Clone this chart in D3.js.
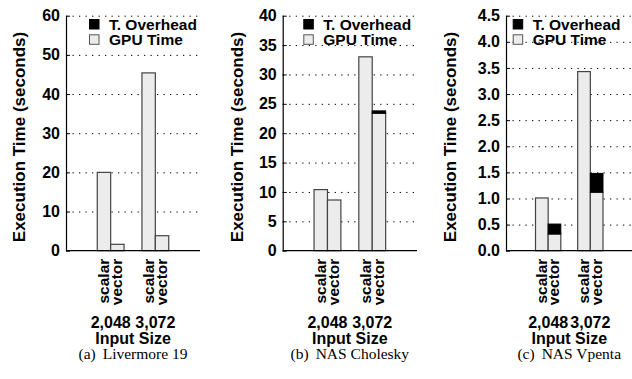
<!DOCTYPE html>
<html>
<head>
<meta charset="utf-8">
<script src="https://cdn.jsdelivr.net/npm/d3@7"></script>
<style>
  body { margin: 0; background: #fff; }
  svg { display: block; }
  text { font-family: "Liberation Sans", Arial, sans-serif; font-weight: bold; fill: #000; }
  .caption { font-family: "Liberation Serif", "Times New Roman", serif; font-weight: normal; font-size: 15.5px; }
</style>
</head>
<body>
<svg width="632" height="379"></svg>
<script>
// data
var sizes = ["2,048", "3,072"];
var modes = ["scalar", "vector"];
var seriesNames = ["T. Overhead", "GPU Time"];
var captions = ["(a)|Livermore 19", "(b)|NAS Cholesky", "(c)|NAS Vpenta"];
var yMax = [60, 40, 4.5];
var yStep = [10, 5, 0.5];

// order: 2048 scalar, 2048 vector, 3072 scalar, 3072 vector
var gpuLivermore = [20.0, 1.63, 45.4, 3.83];
var ovhLivermore = [0, 0, 0, 0];
var gpuCholesky = [10.4, 8.63, 33.0, 23.4];
var ovhCholesky = [0, 0, 0, 0.4];
var gpuVpenta = [1.01, 0.32, 3.43, 1.12];
var ovhVpenta = [0, 0.19, 0, 0.36];

var gpuAll = [gpuLivermore, gpuCholesky, gpuVpenta];
var ovhAll = [ovhLivermore, ovhCholesky, ovhVpenta];

// layout per panel
var layout = [
    {left: 66, width: 134, legend: 23, ylab: 47},
    {left: 282.7, width: 134.3, legend: 20.6, ylab: 46},
    {left: 506, width: 126.5, legend: 6.7, ylab: 56}
];
var plotTop = 15.7, plotBottom = 250.7;

var svg = d3.select("svg");

layout.forEach(function (L, p) {
    var g = svg.append("g").attr("transform", "translate(" + L.left + ",0)");

    var x = d3.scaleLinear().domain([-1, 2]).range([0, L.width]);
    var y = d3.scaleLinear().domain([0, yMax[p]]).range([plotBottom, plotTop]);
    var ticks = d3.range(0, yMax[p] + yStep[p] / 2, yStep[p]);
    var fmt = yStep[p] < 1 ? d3.format(".1f") : d3.format("d");

    // dotted grid
    g.append("g")
        .attr("class", "grid")
        .call(d3.axisLeft(y).tickValues(ticks.slice(1)).tickSize(-L.width).tickFormat(""))
        .call(function (s) {
            s.select(".domain").remove();
            s.selectAll("line").attr("stroke", "#000").attr("stroke-width", 1)
                .attr("stroke-dasharray", "1.3,5.2");
        });

    // bars
    var rows = [];
    sizes.forEach(function (sz, i) {
        modes.forEach(function (m, j) {
            var k = i * 2 + j;
            rows.push({g: i, m: j, gpu: gpuAll[p][k], ovh: ovhAll[p][k]});
        });
    });
    var x0 = function (d) { return d.m === 0 ? x(d.g - 0.3) : x(d.g); };
    var bw = x(0.3) - x(0);

    g.selectAll(".gpu")
        .data(rows)
        .enter().append("rect")
        .attr("class", "gpu")
        .attr("x", x0)
        .attr("width", bw)
        .attr("y", function (d) { return y(d.gpu); })
        .attr("height", function (d) { return y(0) - y(d.gpu); })
        .attr("fill", "#ececec")
        .attr("stroke", "#444")
        .attr("stroke-width", 1.2);

    g.selectAll(".ovh")
        .data(rows.filter(function (d) { return d.ovh > 0; }))
        .enter().append("rect")
        .attr("class", "ovh")
        .attr("x", x0)
        .attr("width", bw)
        .attr("y", function (d) { return y(d.gpu + d.ovh); })
        .attr("height", function (d) { return y(d.gpu) - y(d.gpu + d.ovh); })
        .attr("fill", "#000")
        .attr("stroke", "#000")
        .attr("stroke-width", 1);

    // y axis
    g.append("g")
        .call(d3.axisLeft(y).tickValues(ticks).tickSizeInner(-4).tickSizeOuter(0)
            .tickPadding(6).tickFormat(fmt))
        .call(function (s) {
            s.select(".domain").attr("stroke", "#000").attr("stroke-width", 1.2);
            s.selectAll("line").attr("stroke", "#000");
            s.selectAll("text").attr("font-size", "16px")
                .style("font-family", '"Liberation Sans", Arial, sans-serif');
        });

    // baseline
    g.append("line")
        .attr("x1", 0).attr("x2", L.width)
        .attr("y1", y(0)).attr("y2", y(0))
        .attr("stroke", "#000").attr("stroke-width", 1.2);

    // category labels (rotated)
    var centers = [];
    sizes.forEach(function (sz, i) { centers.push(i - 0.15, i + 0.15); });
    g.append("g")
        .attr("transform", "translate(0," + y(0) + ")")
        .call(d3.axisBottom(x).tickValues(centers).tickSize(0)
            .tickFormat(function (d, i) { return modes[i % 2]; }))
        .call(function (s) {
            s.select(".domain").remove();
            s.selectAll("text")
                .attr("transform", "rotate(-90)")
                .attr("text-anchor", "end")
                .attr("x", -8)
                .attr("y", 4.5)
                .attr("dy", 0)
                .attr("font-size", "15.5px")
                .style("font-family", '"Liberation Sans", Arial, sans-serif');
        });

    // group labels
    g.selectAll(".size")
        .data(sizes)
        .enter().append("text")
        .attr("class", "size")
        .attr("x", function (d, i) { return x(i); })
        .attr("y", 328)
        .attr("text-anchor", "middle")
        .attr("font-size", "16px")
        .text(function (d) { return d; });

    g.append("text")
        .attr("x", x(0.5))
        .attr("y", 344)
        .attr("text-anchor", "middle")
        .attr("font-size", "16px")
        .text("Input Size");

    // y label
    g.append("text")
        .attr("transform", "translate(" + (-L.ylab) + "," + 137 + ") rotate(-90)")
        .attr("text-anchor", "middle")
        .attr("dy", "0.35em")
        .attr("font-size", "17px")
        .text("Execution Time (seconds)");

    // legend
    var lg = g.append("g").attr("transform", "translate(" + L.legend + ",0)");
    seriesNames.forEach(function (name, i) {
        lg.append("rect")
            .attr("x", 0.5).attr("y", 19.5 + i * 15.3)
            .attr("width", 9.5).attr("height", 9.5)
            .attr("fill", i === 0 ? "#000" : "#ececec")
            .attr("stroke", i === 0 ? "#000" : "#555")
            .attr("stroke-width", 1);
        lg.append("text")
            .attr("x", 20).attr("y", 29.5 + i * 15)
            .attr("font-size", "15.5px")
            .text(name);
    });

    // caption
    var cap = captions[p].split("|");
    var ct = svg.append("text")
        .attr("class", "caption")
        .attr("x", L.left + x(0.5))
        .attr("y", 359)
        .attr("text-anchor", "middle");
    ct.append("tspan").text(cap[0]);
    ct.append("tspan").attr("dx", 7).text(cap[1]);
});
</script>
</body>
</html>
